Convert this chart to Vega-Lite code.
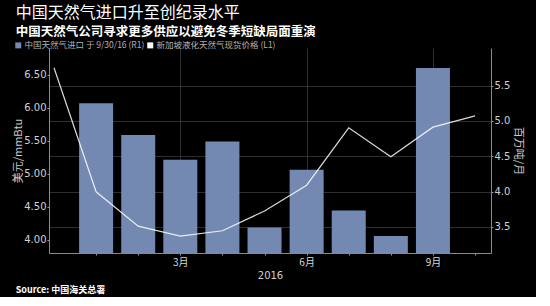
{
  "$schema": "https://vega.github.io/schema/vega-lite/v6.json",
  "background": "#000000",
  "padding": {"left": 12, "top": 4, "right": 12, "bottom": 2},
  "title": {
    "text": "Source: 中国海关总署",
    "orient": "bottom",
    "anchor": "start",
    "color": "#ffffff",
    "fontSize": 9,
    "fontWeight": "bold",
    "font": "Noto Sans CJK SC",
    "offset": 6,
    "dx": 3
  },
  "config": {
    "view": {"stroke": null},
    "axis": {
      "domainColor": "#8a8a8a",
      "tickColor": "#9a9a9a",
      "labelColor": "#d0d0d0",
      "titleColor": "#c8c8c8",
      "labelFont": "DejaVu Sans",
      "titleFont": "Noto Sans CJK SC",
      "labelFontSize": 10,
      "titleFontSize": 11,
      "titleFontWeight": "normal",
      "gridColor": "#2e2e2e",
      "tickSize": 2,
      "labelPadding": 1
    }
  },
  "vconcat": [
    {
      "title": {
        "text": "中国天然气进口升至创纪录水平",
        "subtitle": "中国天然气公司寻求更多供应以避免冬季短缺局面重演",
        "anchor": "start",
        "dx": 3,
        "font": "Noto Sans CJK SC",
        "fontSize": 16,
        "fontWeight": "normal",
        "color": "#ffffff",
        "subtitleFont": "Noto Sans CJK SC",
        "subtitleFontSize": 12.5,
        "subtitleFontWeight": "bold",
        "subtitleColor": "#ffffff",
        "subtitlePadding": 5,
        "offset": 10
      },
      "width": 442,
      "height": 205,
      "data": {
        "values": [
          {"month": 1, "kind": "imports", "series": "中国天然气进口 于 9/30/16 (R1)", "value": 5.25},
          {"month": 2, "kind": "imports", "series": "中国天然气进口 于 9/30/16 (R1)", "value": 4.80},
          {"month": 3, "kind": "imports", "series": "中国天然气进口 于 9/30/16 (R1)", "value": 4.45},
          {"month": 4, "kind": "imports", "series": "中国天然气进口 于 9/30/16 (R1)", "value": 4.71},
          {"month": 5, "kind": "imports", "series": "中国天然气进口 于 9/30/16 (R1)", "value": 3.49},
          {"month": 6, "kind": "imports", "series": "中国天然气进口 于 9/30/16 (R1)", "value": 4.31},
          {"month": 7, "kind": "imports", "series": "中国天然气进口 于 9/30/16 (R1)", "value": 3.73},
          {"month": 8, "kind": "imports", "series": "中国天然气进口 于 9/30/16 (R1)", "value": 3.37},
          {"month": 9, "kind": "imports", "series": "中国天然气进口 于 9/30/16 (R1)", "value": 5.75},
          {"month": 0, "kind": "lng", "series": "新加坡液化天然气现货价格 (L1)", "value": 6.61},
          {"month": 1, "kind": "lng", "series": "新加坡液化天然气现货价格 (L1)", "value": 4.73},
          {"month": 2, "kind": "lng", "series": "新加坡液化天然气现货价格 (L1)", "value": 4.21},
          {"month": 3, "kind": "lng", "series": "新加坡液化天然气现货价格 (L1)", "value": 4.06},
          {"month": 4, "kind": "lng", "series": "新加坡液化天然气现货价格 (L1)", "value": 4.14},
          {"month": 5, "kind": "lng", "series": "新加坡液化天然气现货价格 (L1)", "value": 4.44},
          {"month": 6, "kind": "lng", "series": "新加坡液化天然气现货价格 (L1)", "value": 4.83},
          {"month": 7, "kind": "lng", "series": "新加坡液化天然气现货价格 (L1)", "value": 5.70},
          {"month": 8, "kind": "lng", "series": "新加坡液化天然气现货价格 (L1)", "value": 5.26},
          {"month": 9, "kind": "lng", "series": "新加坡液化天然气现货价格 (L1)", "value": 5.71},
          {"month": 10, "kind": "lng", "series": "新加坡液化天然气现货价格 (L1)", "value": 5.88}
        ]
      },
      "encoding": {
        "x": {
          "field": "month",
          "type": "quantitative",
          "scale": {"domain": [0, 10.26], "nice": false, "zero": false},
          "axis": {
            "title": "2016",
            "titleFont": "DejaVu Sans",
            "titleColor": "#d0d0d0",
            "titleFontSize": 10,
            "titlePadding": 3,
            "values": [1, 2, 3, 4, 5, 6, 7, 8, 9, 10],
            "labelExpr": "datum.value % 3 === 0 ? datum.value + '月' : ''",
            "labelFont": "Noto Sans CJK SC",
            "labelColor": "#d8d8d8",
            "labelOverlap": false,
            "labelPadding": 2,
            "grid": true,
            "gridOpacity": {"condition": {"test": "datum.value % 3 === 0", "value": 1}, "value": 0},
            "gridColor": "#2e2e2e"
          }
        },
        "color": {
          "field": "series",
          "type": "nominal",
          "scale": {
            "domain": ["中国天然气进口 于 9/30/16 (R1)", "新加坡液化天然气现货价格 (L1)"],
            "range": ["#7389b2", "#ffffff"]
          },
          "legend": {
            "orient": "none",
            "legendX": -35,
            "legendY": -7,
            "direction": "horizontal",
            "title": null,
            "symbolType": "square",
            "symbolSize": 36,
            "symbolStrokeWidth": 0,
            "symbolOpacity": 1,
            "labelFont": "Noto Sans CJK SC",
            "labelFontSize": 8.5,
            "labelColor": "#b0b0b0",
            "labelOffset": 2,
            "columnPadding": 1,
            "encode": {
              "symbols": {"update": {"fill": {"scale": "color", "field": "value"}, "fillOpacity": {"value": 1}}}
            }
          }
        }
      },
      "layer": [
        {
          "transform": [{"filter": "datum.kind === 'imports'"}],
          "mark": {"type": "bar", "size": 34, "clip": true},
          "encoding": {
            "y": {
              "field": "value",
              "type": "quantitative",
              "scale": {"domain": [3.128, 6.035], "nice": false, "zero": false},
              "axis": {
                "orient": "right",
                "title": "百万吨/月",
                "values": [3.5, 4, 4.5, 5, 5.5],
                "format": ".1f",
                "grid": true,
                "titleAngle": 90,
                "titlePadding": 3
              }
            }
          }
        },
        {
          "transform": [{"filter": "datum.kind === 'lng'"}],
          "mark": {"type": "line", "strokeWidth": 1.2, "strokeOpacity": 0.85},
          "encoding": {
            "y": {
              "field": "value",
              "type": "quantitative",
              "scale": {"domain": [3.803, 6.909], "nice": false, "zero": false},
              "axis": {
                "orient": "left",
                "title": "美元/mmBtu",
                "values": [4, 4.5, 5, 5.5, 6, 6.5],
                "format": ".2f",
                "grid": false,
                "titlePadding": 0
              }
            }
          }
        }
      ],
      "resolve": {"scale": {"y": "independent"}}
    }
  ]
}
